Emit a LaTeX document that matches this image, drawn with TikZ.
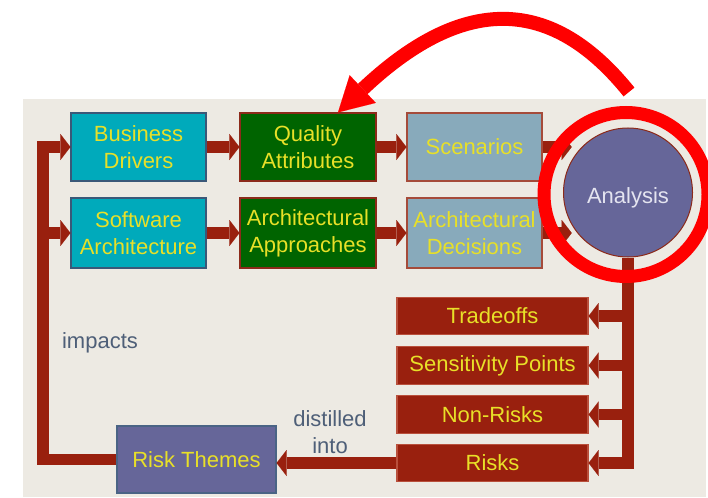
\documentclass[tikz,border=0pt]{standalone}
\usepackage{fontspec}
\setmainfont{Liberation Sans}
\usetikzlibrary{arrows.meta,calc}
\definecolor{bgpanel}{RGB}{237,234,227}
\definecolor{arr}{RGB}{153,32,14}
\definecolor{tealbox}{RGB}{0,170,187}
\definecolor{tealborder}{RGB}{58,88,120}
\definecolor{greenbox}{RGB}{0,100,0}
\definecolor{greenborder}{RGB}{140,42,26}
\definecolor{greybox}{RGB}{136,170,187}
\definecolor{greyborder}{RGB}{165,75,58}
\definecolor{redbox}{RGB}{153,32,14}
\definecolor{redborder}{RGB}{185,80,60}
\definecolor{purplebox}{RGB}{102,102,153}
\definecolor{purpleborder}{RGB}{74,100,133}
\definecolor{boxtext}{RGB}{232,224,40}
\definecolor{antext}{RGB}{228,228,240}
\definecolor{labeltext}{RGB}{78,95,120}
\begin{document}
\begin{tikzpicture}[x=1pt,y=-1pt,
  every node/.style={font=\fontsize{22}{27}\selectfont, align=center, inner sep=0pt},
  box/.style={rectangle, line width=1.2pt, text=boxtext},
  teal/.style={box, fill=tealbox, draw=tealborder, minimum width=135pt},
  grn/.style={box, fill=greenbox, draw=greenborder, minimum width=136pt},
  gry/.style={box, fill=greybox, draw=greyborder, minimum width=135pt},
  rbox/.style={box, fill=redbox, draw=redborder, minimum width=191pt, minimum height=37.5pt},
  flow/.style={draw=arr, line width=11.5pt, line join=miter,
    -{Triangle[length=10pt,width=26pt,line width=0.01pt]}},
  lbl/.style={text=labeltext}]
\useasboundingbox (0,0) rectangle (708,497);
\fill[bgpanel] (23,99) rectangle (706,497);

% nodes
\node[teal, minimum height=68pt] (bd) at (138.5,147) {Business\\Drivers};
\node[teal, minimum height=70pt] (sa) at (138.5,233) {Software\\Architecture};
\node[grn, minimum height=68pt] (qa) at (308,147) {Quality\\Attributes};
\node[grn, minimum height=70pt] (aa) at (308,233) {Architectural\\Approaches};
\node[gry, minimum height=68pt] (sc) at (474.5,147) {Scenarios};
\node[gry, minimum height=70pt] (ad) at (474.5,233) {Architectural\\Decisions};
\node[circle, fill=purplebox, draw=greenborder, line width=1pt, minimum size=129pt, text=antext, text height=21pt, text depth=0pt] (an) at (628,192.5) {Analysis};
\node[rbox] (to) at (492.5,316) {Tradeoffs};
\node[rbox] (sp) at (492.5,365.5) {Sensitivity Points};
\node[rbox] (nr) at (492.5,414.5) {Non-Risks};
\node[rbox] (ri) at (492.5,463) {Risks};
\node[box, fill=purplebox, draw=purpleborder, minimum width=159pt, minimum height=67pt] (rt) at (196.5,459.5) {Risk Themes};
\coordinate (lx) at (43,300);

% labels
\node[lbl, anchor=base] (imp) at (100,348) {impacts};
\node[lbl] (dist) at (330,432) {distilled\\into};

% connectors
\draw[flow] (bd.east) -- (qa.west);
\draw[flow] (sa.east) -- (aa.west);
\draw[flow] (qa.east) -- (sc.west);
\draw[flow] (aa.east) -- (ad.west);
\draw[flow] (sc.east) -- (sc.east -| an.150);
\draw[flow] (ad.east) -- (ad.east -| an.210);
\draw[flow] (an.south) -- (an.south |- ri.east) -- (ri.east);
\draw[flow] (an.south |- to.east) -- (to.east);
\draw[flow] (an.south |- sp.east) -- (sp.east);
\draw[flow] (an.south |- nr.east) -- (nr.east);
\draw[flow] (ri.west) -- (ri.west -| rt.east);
\draw[flow] (rt.west) -- (rt.west -| lx) -- (lx |- bd.west) -- (bd.west);
\draw[flow] (lx |- sa.west) -- (sa.west);

% red highlight ring and curved arrow
\node[circle, draw=red, line width=13pt, minimum size=164pt] (ring) at ($(an.center)+(-2,2)$) {};
\coordinate (cs) at (629,92);
\coordinate (tip) at ($(qa.north)+(30,0)$);
\draw[red, line width=14pt, -{Triangle[length=34pt,width=38pt,line width=0.01pt]}]
  (cs) .. controls (547,-10) and (457,0) .. (tip);
\end{tikzpicture}
\end{document}
